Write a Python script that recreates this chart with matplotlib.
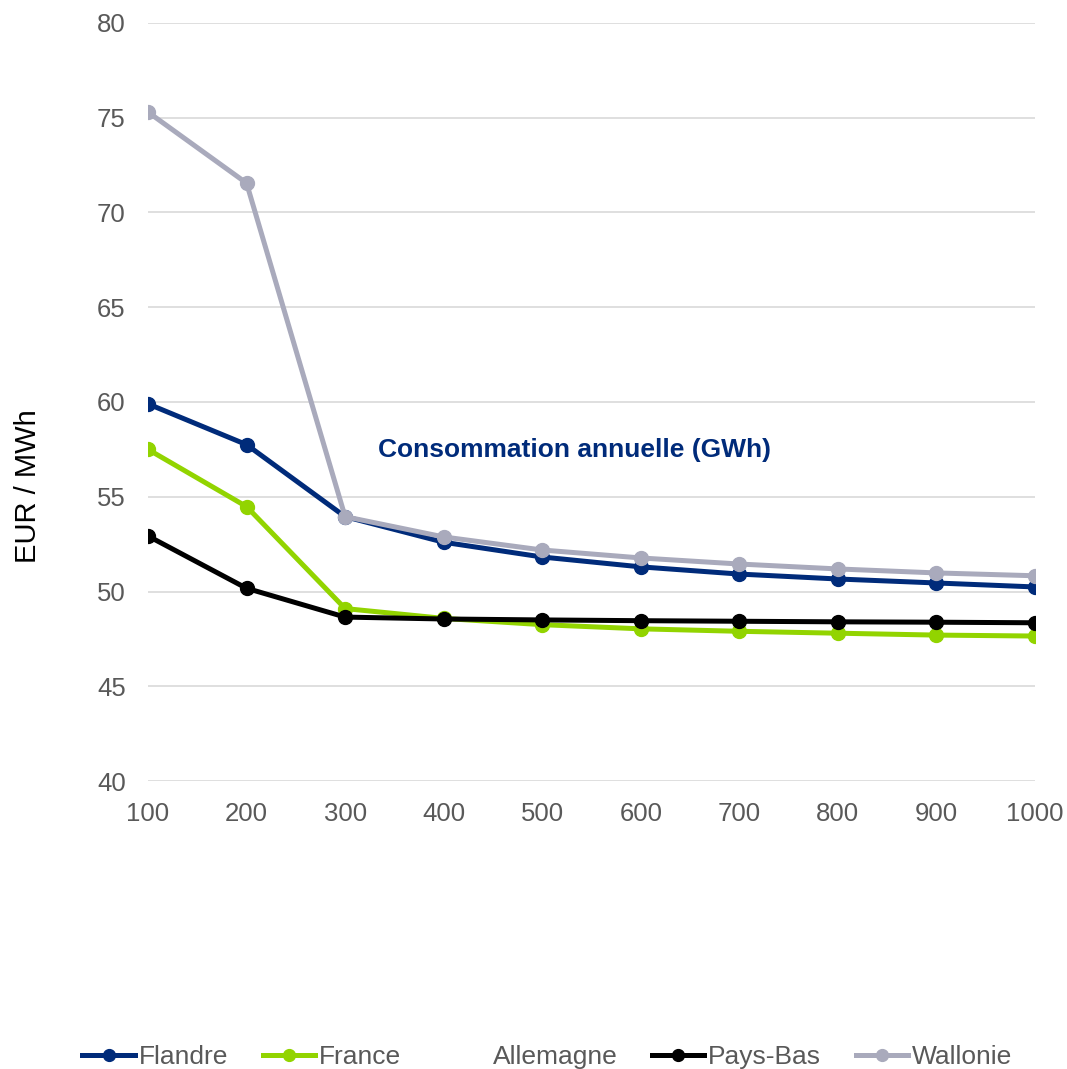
import matplotlib.pyplot as plt

plt.rcParams['font.family'] = ['Liberation Sans', 'DejaVu Sans']

conso = [100, 200, 300, 400, 500, 600, 700, 800, 900, 1000]
flandre = [59.9, 57.75, 53.95, 52.6, 51.82, 51.3, 50.92, 50.66, 50.45, 50.24]
france = [57.5, 54.48, 49.1, 48.58, 48.25, 48.03, 47.9, 47.8, 47.7, 47.65]
allemagne = []
pays_bas = [52.93, 50.17, 48.65, 48.55, 48.5, 48.46, 48.43, 48.4, 48.38, 48.35]
wallonie = [75.3, 71.55, 53.95, 52.88, 52.19, 51.77, 51.45, 51.19, 50.98, 50.83]

fig = plt.figure(figsize=(10.67, 10.69), dpi=100)
ax = fig.add_axes([0.1387, 0.2694, 0.8313, 0.7091])

ax.plot(conso, flandre, color='#002B7A', lw=3.6, marker='o', ms=10, label='Flandre')
ax.plot(conso, france, color='#92D400', lw=3.6, marker='o', ms=10, label='France')
ax.plot(allemagne, allemagne, color='none', lw=3.6, label='Allemagne')
ax.plot(conso, pays_bas, color='#000000', lw=3.6, marker='o', ms=10, label='Pays-Bas')
ax.plot(conso, wallonie, color='#A9AABC', lw=3.6, marker='o', ms=10, label='Wallonie')

ax.set_xlim(100, 1000)
ax.set_ylim(40, 80)
ax.set_xticks(conso)
ax.set_yticks(range(40, 81, 5))
ax.grid(axis='y', color='#D9D9D9', lw=1.2)
ax.set_axisbelow(True)
for s in ['top', 'right', 'left', 'bottom']:
    ax.spines[s].set_visible(False)
ax.tick_params(length=0, labelsize=18.5, labelcolor='#595959')
ax.tick_params(axis='x', pad=15)
ax.tick_params(axis='y', pad=16)
ax.set_ylabel('EUR / MWh', fontsize=21, color='#000000')
ax.yaxis.set_label_coords(-0.12, 0.389)

ax.text(533, 57.47, 'Consommation annuelle (GWh)', ha='center', va='center',
        fontsize=19, fontweight='bold', color='#002B7A')

fig.legend(loc='center', bbox_to_anchor=(0.513, 0.011), ncol=5, frameon=False,
           fontsize=19, labelcolor='#595959', handlelength=2.0, handletextpad=0.15,
           columnspacing=1.3, markerscale=0.85)

plt.savefig('out.png', dpi=100)
